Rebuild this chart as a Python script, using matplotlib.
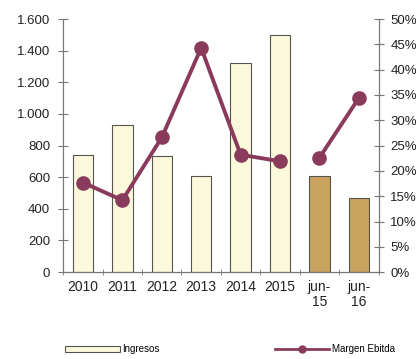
import numpy as np
import matplotlib
matplotlib.use("Agg")
import matplotlib.pyplot as plt
from matplotlib.ticker import FuncFormatter
from matplotlib.patches import Patch
from matplotlib.lines import Line2D

plt.rcParams["font.family"] = ["Liberation Sans", "DejaVu Sans"]

categories = ["2010", "2011", "2012", "2013", "2014", "2015", "jun-\n15", "jun-\n16"]
ingresos = [740, 930, 735, 610, 1320, 1500, 610, 470]
is_semester = [False, False, False, False, False, False, True, True]

# Margen Ebitda (%), annual block and semester block drawn separately
margen_annual = [17.7, 14.2, 26.6, 44.3, 23.2, 21.9]
margen_semester = [22.6, 34.4]

fig = plt.figure(figsize=(4.16, 3.59), dpi=100)
ax = fig.add_axes([0.152, 0.242, 0.758, 0.705])
ax2 = ax.twinx()

x = np.arange(len(categories))
bar_light = "#fbf8dc"
bar_dark = "#c9a25e"
colors = [bar_dark if s else bar_light for s in is_semester]
ax.bar(x, ingresos, width=0.52, color=colors, edgecolor="#55554c", linewidth=0.8,
       zorder=2)

line_color = "#8a3b5b"
xa = x[:len(margen_annual)]
xs = x[len(margen_annual):]
ax2.plot(xa, margen_annual, color=line_color, lw=2.8, marker="o", ms=9.5,
         zorder=3)
ax2.plot(xs, margen_semester, color=line_color, lw=2.8, marker="o", ms=9.5,
         zorder=3)

ax.set_xlim(-0.5, len(categories) - 0.5)
ax.set_ylim(0, 1600)
ax.set_yticks(np.arange(0, 1601, 200))
ax.yaxis.set_major_formatter(FuncFormatter(lambda v, p: f"{int(v):,}".replace(",", ".")))
ax2.set_ylim(0, 50)
ax2.set_yticks(np.arange(0, 51, 5))
ax2.yaxis.set_major_formatter(FuncFormatter(lambda v, p: f"{int(v)}%"))

ax.set_xticks(x)
ax.set_xticklabels(categories, linespacing=1.05)
ax.set_xticks(np.arange(-0.5, len(categories), 1), minor=True)
ax.tick_params(axis="x", which="major", length=0, labelsize=10, colors="#222222",
               pad=6)
ax.tick_params(axis="x", which="minor", length=4, direction="inout", color="#777777")
ax.tick_params(axis="y", length=7, direction="inout", labelsize=9.5, pad=6,
               colors="#222222", color="#777777")
ax2.tick_params(axis="y", length=7, direction="inout", labelsize=9.5, pad=5,
                colors="#222222", color="#777777")

for a in (ax, ax2):
    a.spines["top"].set_visible(False)
    for s in ("left", "right", "bottom"):
        a.spines[s].set_color("#777777")
        a.spines[s].set_linewidth(0.8)

handles = [Patch(facecolor=bar_light, edgecolor="#55554c", linewidth=0.8),
           Line2D([], [], color=line_color, lw=2, marker="o", ms=5)]
fig.legend(handles, ["Ingresos", "Margen Ebitda"], loc="lower left",
           bbox_to_anchor=(0.152, 0.008), ncol=2, frameon=False, fontsize=7,
           handlelength=5.6, handletextpad=0.3, columnspacing=11.8,
           handleheight=0.6, borderpad=0.2, borderaxespad=0.0)

fig.savefig("out.png", dpi=100)
